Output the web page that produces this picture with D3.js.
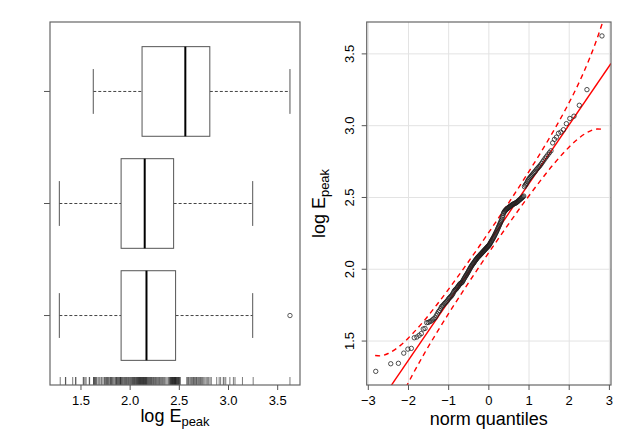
<!DOCTYPE html>
<html>
<head>
<meta charset="utf-8">
<script src="https://cdn.jsdelivr.net/npm/d3@7"></script>
<style>
  body { margin: 0; background: #fff; }
  text { font-family: "Liberation Sans", Arial, sans-serif; fill: #000; }
</style>
</head>
<body>
<div id="chart"></div>
<script>
const logEpeak = [
  1.289, 1.342, 1.345, 1.416, 1.444, 1.449, 1.523, 1.528, 1.540,
  1.552, 1.584, 1.588, 1.628, 1.630, 1.635, 1.640, 1.648, 1.655, 1.662, 1.676,
  1.690, 1.704, 1.712, 1.725, 1.739, 1.745, 1.752, 1.760, 1.766, 1.772,
  1.778, 1.786, 1.795, 1.801, 1.806, 1.812, 1.818, 1.826, 1.835, 1.845,
  1.853, 1.858, 1.862, 1.868, 1.874, 1.880, 1.887, 1.893, 1.899, 1.902,
  1.905, 1.908, 1.914, 1.922, 1.930, 1.937, 1.944, 1.951, 1.957, 1.964,
  1.970, 1.977, 1.984, 1.991, 1.998, 2.005, 2.012, 2.018, 2.024, 2.030,
  2.035, 2.040, 2.045, 2.050, 2.056, 2.061, 2.066, 2.070, 2.075, 2.080,
  2.084, 2.088, 2.091, 2.095, 2.099, 2.103, 2.106, 2.110, 2.114, 2.118,
  2.121, 2.125, 2.129, 2.133, 2.136, 2.140, 2.144, 2.148, 2.151, 2.155,
  2.159, 2.162, 2.166,
  2.170, 2.176, 2.182, 2.188, 2.194, 2.200, 2.206,
  2.212, 2.218, 2.224, 2.231, 2.238, 2.245, 2.252, 2.259, 2.266, 2.274,
  2.282, 2.290, 2.298, 2.306, 2.314, 2.322, 2.330, 2.340, 2.350, 2.362, 2.375,
  2.388, 2.396, 2.402, 2.407, 2.411, 2.415, 2.419, 2.422, 2.425, 2.428,
  2.431, 2.434, 2.437, 2.440, 2.443, 2.446, 2.449, 2.452, 2.454, 2.456,
  2.458, 2.460, 2.462, 2.465, 2.468, 2.472, 2.476, 2.480, 2.484, 2.488,
  2.492, 2.496, 2.500, 2.505, 2.510,
  2.575, 2.585, 2.592, 2.600, 2.612, 2.622, 2.630, 2.638, 2.645, 2.652,
  2.660, 2.668, 2.675, 2.682, 2.692, 2.700, 2.708, 2.716, 2.725, 2.736,
  2.748, 2.760, 2.773, 2.785, 2.798, 2.812, 2.825, 2.880, 2.905, 2.920,
  2.947, 2.955, 2.972, 3.014, 3.050, 3.066, 3.142, 3.251, 3.625
];

// boxplot stats, bottom group first
const boxGroups = ["all", "group 2", "group 3"];
const boxLower = [1.280, 1.280, 1.625];
const boxQ1 = [1.908, 1.908, 2.121];
const boxMedian = [2.166, 2.148, 2.561];
const boxQ3 = [2.462, 2.442, 2.810];
const boxUpper = [3.246, 3.246, 3.625];
const boxOutliers = [[3.625], [], []];

const leftTicks = [1.5, 2.0, 2.5, 3.0, 3.5];
const qqXTicks = [-3, -2, -1, 0, 1, 2, 3];
const qqYTicks = [1.5, 2.0, 2.5, 3.0, 3.5];

// reference line and 95% envelope
const qqLine = { intercept: 2.187, slope: 0.41 };
const envZ = [-2.83, -2.7, -2.5, -2.2, -1.9, -1.6, -1.3, -1.0, -0.6, -0.2, 0.2, 0.6, 1.0, 1.3, 1.6, 1.9, 2.2, 2.5, 2.7, 2.83];
const envUpper = [1.399, 1.397, 1.414, 1.470, 1.551, 1.646, 1.751, 1.862, 2.016, 2.176, 2.340, 2.508, 2.682, 2.817, 2.958, 3.109, 3.274, 3.464, 3.611, 3.719];
const envLower = [0.655, 0.763, 0.911, 1.100, 1.265, 1.416, 1.557, 1.692, 1.866, 2.034, 2.198, 2.358, 2.512, 2.623, 2.728, 2.823, 2.904, 2.960, 2.977, 2.975];

// inverse normal cdf (Acklam)
function qnorm(p) {
  const a = [-3.969683028665376e+01, 2.209460984245205e+02, -2.759285104469687e+02, 1.383577518672690e+02, -3.066479806614716e+01, 2.506628277459239e+00];
  const b = [-5.447609879822406e+01, 1.615858368580409e+02, -1.556989798598866e+02, 6.680131188771972e+01, -1.328068155288572e+01];
  const c = [-7.784894002430293e-03, -3.223964580411365e-01, -2.400758277161838e+00, -2.549732539343734e+00, 4.374664141464968e+00, 2.938163982698783e+00];
  const d = [7.784695709041462e-03, 3.224671290700398e-01, 2.445134137142996e+00, 3.754408661907416e+00];
  const pl = 0.02425;
  if (p < pl) {
    const q = Math.sqrt(-2 * Math.log(p));
    return (((((c[0]*q+c[1])*q+c[2])*q+c[3])*q+c[4])*q+c[5]) / ((((d[0]*q+d[1])*q+d[2])*q+d[3])*q+1);
  }
  if (p > 1 - pl) {
    const q = Math.sqrt(-2 * Math.log(1 - p));
    return -(((((c[0]*q+c[1])*q+c[2])*q+c[3])*q+c[4])*q+c[5]) / ((((d[0]*q+d[1])*q+d[2])*q+d[3])*q+1);
  }
  const q = p - 0.5, r = q * q;
  return (((((a[0]*r+a[1])*r+a[2])*r+a[3])*r+a[4])*r+a[5])*q / (((((b[0]*r+b[1])*r+b[2])*r+b[3])*r+b[4])*r+1);
}

const width = 622, height = 432;
const svg = d3.select("#chart").append("svg")
  .attr("width", width)
  .attr("height", height)
  .style("background", "#fff");

const fmt1 = d3.format(".1f");
const frameColor = "#666";

// ---------- left panel: horizontal boxplots ----------
const L = { left: 50, right: 300, top: 22, bottom: 385 };
const xL = d3.scaleLinear().domain([1.185, 3.727]).range([L.left, L.right]);
const yL = d3.scaleLinear().domain([0.38, 3.62]).range([L.bottom, L.top]);
const halfBox = yL(0) - yL(0.4);
const halfStaple = yL(0) - yL(0.2);

const left = svg.append("g");

boxGroups.forEach((g, i) => {
  const yc = yL(i + 1);
  const grp = left.append("g");
  // whiskers
  grp.append("line")
    .attr("x1", xL(boxLower[i])).attr("x2", xL(boxQ1[i]))
    .attr("y1", yc).attr("y2", yc)
    .attr("stroke", "#444").attr("stroke-dasharray", "3,2");
  grp.append("line")
    .attr("x1", xL(boxQ3[i])).attr("x2", xL(boxUpper[i]))
    .attr("y1", yc).attr("y2", yc)
    .attr("stroke", "#444").attr("stroke-dasharray", "3,2");
  // staples
  [boxLower[i], boxUpper[i]].forEach(v => {
    grp.append("line")
      .attr("x1", xL(v)).attr("x2", xL(v))
      .attr("y1", yc - halfStaple).attr("y2", yc + halfStaple)
      .attr("stroke", "#555");
  });
  // box
  grp.append("rect")
    .attr("x", xL(boxQ1[i])).attr("y", yc - halfBox)
    .attr("width", xL(boxQ3[i]) - xL(boxQ1[i]))
    .attr("height", 2 * halfBox)
    .attr("fill", "#fff").attr("stroke", "#555");
  // median
  grp.append("line")
    .attr("x1", xL(boxMedian[i])).attr("x2", xL(boxMedian[i]))
    .attr("y1", yc - halfBox).attr("y2", yc + halfBox)
    .attr("stroke", "#000").attr("stroke-width", 2);
  // outliers
  boxOutliers[i].forEach(v => {
    grp.append("circle")
      .attr("cx", xL(v)).attr("cy", yc).attr("r", 2.2)
      .attr("fill", "none").attr("stroke", "#333").attr("stroke-width", 0.8);
  });
  // y tick
  left.append("line")
    .attr("x1", L.left - 6).attr("x2", L.left)
    .attr("y1", yc).attr("y2", yc)
    .attr("stroke", "#555");
});

// rug
left.selectAll("line.rug").data(logEpeak).enter().append("line")
  .attr("class", "rug")
  .attr("x1", d => xL(d)).attr("x2", d => xL(d))
  .attr("y1", L.bottom - 8).attr("y2", L.bottom)
  .attr("stroke", "#222").attr("stroke-width", 0.6);

left.append("rect")
  .attr("x", L.left).attr("y", L.top)
  .attr("width", L.right - L.left).attr("height", L.bottom - L.top)
  .attr("fill", "none").attr("stroke", frameColor).attr("stroke-width", 1.2);

left.selectAll("line.xt").data(leftTicks).enter().append("line")
  .attr("x1", d => xL(d)).attr("x2", d => xL(d))
  .attr("y1", L.bottom).attr("y2", L.bottom + 5)
  .attr("stroke", "#555");
left.selectAll("text.xt").data(leftTicks).enter().append("text")
  .attr("x", d => xL(d)).attr("y", 405)
  .attr("text-anchor", "middle").attr("font-size", 13)
  .text(d => fmt1(d));

const labL = left.append("text")
  .attr("x", (L.left + L.right) / 2).attr("y", 422)
  .attr("text-anchor", "middle").attr("font-size", 18);
labL.append("tspan").text("log E");
labL.append("tspan").attr("dy", 3.5).attr("font-size", 13).text("peak");

// ---------- right panel: normal QQ plot ----------
const R = { left: 366.7, right: 611, top: 22, bottom: 385 };
const xR = d3.scaleLinear().domain([-3.04, 3.04]).range([R.left, R.right]);
const yR = d3.scaleLinear().domain([1.194, 3.722]).range([R.bottom, R.top]);

const right = svg.append("g");
svg.append("defs").append("clipPath").attr("id", "clipR")
  .append("rect")
  .attr("x", R.left).attr("y", R.top)
  .attr("width", R.right - R.left).attr("height", R.bottom - R.top);

// grid
right.selectAll("line.gx").data(qqXTicks).enter().append("line")
  .attr("x1", d => xR(d)).attr("x2", d => xR(d))
  .attr("y1", R.top).attr("y2", R.bottom)
  .attr("stroke", "#e3e3e3");
right.selectAll("line.gy").data(qqYTicks).enter().append("line")
  .attr("x1", R.left).attr("x2", R.right)
  .attr("y1", d => yR(d)).attr("y2", d => yR(d))
  .attr("stroke", "#e3e3e3");

const n = logEpeak.length;
const qqData = logEpeak.map((v, i) => ({ z: qnorm((i + 1 - 0.5) / n), v: v }));

const plotArea = right.append("g").attr("clip-path", "url(#clipR)");

const zDom = xR.domain();
plotArea.append("line")
  .attr("x1", xR(zDom[0])).attr("y1", yR(qqLine.intercept + qqLine.slope * zDom[0]))
  .attr("x2", xR(zDom[1])).attr("y2", yR(qqLine.intercept + qqLine.slope * zDom[1]))
  .attr("stroke", "#f00").attr("stroke-width", 1.4);

const envLine = d3.line().curve(d3.curveMonotoneX)
  .x(d => xR(d[0])).y(d => yR(d[1]));
[envUpper, envLower].forEach(arr => {
  plotArea.append("path")
    .attr("d", envLine(envZ.map((z, i) => [z, arr[i]])))
    .attr("fill", "none").attr("stroke", "#f00")
    .attr("stroke-width", 1.4).attr("stroke-dasharray", "5,4");
});

right.selectAll("circle.pt").data(qqData).enter().append("circle")
  .attr("class", "pt")
  .attr("cx", d => xR(d.z)).attr("cy", d => yR(d.v)).attr("r", 2.2)
  .attr("fill", "none").attr("stroke", "#222").attr("stroke-width", 0.8);

right.append("rect")
  .attr("x", R.left).attr("y", R.top)
  .attr("width", R.right - R.left).attr("height", R.bottom - R.top)
  .attr("fill", "none").attr("stroke", frameColor).attr("stroke-width", 1.2);

right.selectAll("line.xt").data(qqXTicks).enter().append("line")
  .attr("x1", d => xR(d)).attr("x2", d => xR(d))
  .attr("y1", R.bottom).attr("y2", R.bottom + 5)
  .attr("stroke", "#555");
right.selectAll("text.xt").data(qqXTicks).enter().append("text")
  .attr("x", d => xR(d)).attr("y", 405)
  .attr("text-anchor", "middle").attr("font-size", 13)
  .text(d => d3.format("d")(d));

right.selectAll("line.yt").data(qqYTicks).enter().append("line")
  .attr("x1", R.left - 5).attr("x2", R.left)
  .attr("y1", d => yR(d)).attr("y2", d => yR(d))
  .attr("stroke", "#555");
right.selectAll("text.yt").data(qqYTicks).enter().append("text")
  .attr("transform", d => `translate(353.5,${yR(d)}) rotate(-90)`)
  .attr("text-anchor", "middle").attr("font-size", 13)
  .text(d => fmt1(d));

right.append("text")
  .attr("x", (R.left + R.right) / 2).attr("y", 425)
  .attr("text-anchor", "middle").attr("font-size", 18)
  .text("norm quantiles");

const labR = right.append("text")
  .attr("transform", `translate(325,${(R.top + R.bottom) / 2}) rotate(-90)`)
  .attr("text-anchor", "middle").attr("font-size", 18);
labR.append("tspan").text("log E");
labR.append("tspan").attr("dy", 3.5).attr("font-size", 13).text("peak");
</script>
</body>
</html>
